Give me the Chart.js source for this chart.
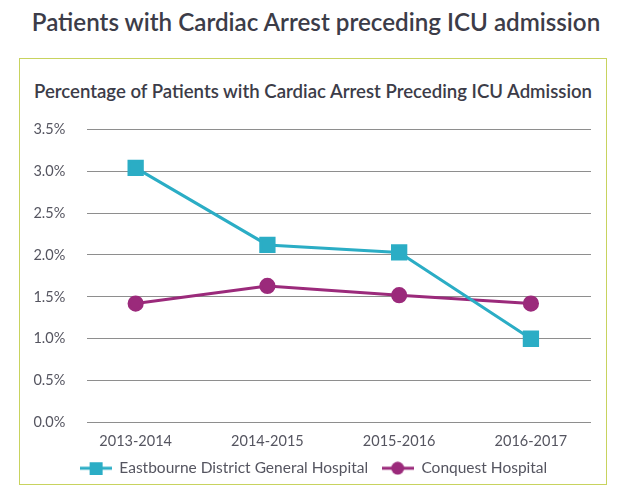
<!DOCTYPE html>
<html>
<head>
<meta charset="utf-8">
<script src="https://cdn.jsdelivr.net/npm/chart.js@4.4.1/dist/chart.umd.min.js"></script>
<style>
  html, body { margin: 0; padding: 0; background: #ffffff; }
  body { width: 622px; height: 498px; position: relative; overflow: hidden; font-family: Lato, "Open Sans", sans-serif; }
  #pageTitle { position: absolute; left: 0; width: 632px; top: 7px; text-align: center; font-size: 24.2px; font-weight: 600; color: #3c3c48; white-space: nowrap; line-height: 30px; }
  #box { position: absolute; left: 19px; top: 58px; width: 588px; height: 427px; border: 1.5px solid #c8d35e; box-sizing: border-box; }
  #chartTitle { position: absolute; left: 34px; top: 80px; font-size: 18.6px; font-weight: 600; color: #3c3c48; white-space: nowrap; line-height: 22px; }
  #wrap { position: absolute; left: 0; top: 0; width: 622px; height: 498px; }
</style>
</head>
<body>
<div id="pageTitle">Patients with Cardiac Arrest preceding ICU admission</div>
<div id="box"></div>
<div id="chartTitle">Percentage of Patients with Cardiac Arrest Preceding ICU Admission</div>
<div id="wrap"><canvas id="c" width="622" height="498"></canvas></div>
<script>
const categories = ["2013-2014", "2014-2015", "2015-2016", "2016-2017"];
const seriesNames = ["Eastbourne District General Hospital", "Conquest Hospital"];
const eastbourne = [3.04, 2.12, 2.03, 1.00];
const conquest = [1.42, 1.63, 1.52, 1.42];
const yTicks = [0, 0.5, 1.0, 1.5, 2.0, 2.5, 3.0, 3.5];

const TEAL = "#2badc5";
const PURPLE = "#9b2a7b";
const FONT = "Lato, 'Open Sans', sans-serif";

function legendIcon(color, shape) {
  const cv = document.createElement("canvas");
  cv.width = 32; cv.height = 14;
  const g = cv.getContext("2d");
  g.strokeStyle = color; g.lineWidth = 3;
  g.beginPath(); g.moveTo(0, 7); g.lineTo(32, 7); g.stroke();
  g.fillStyle = color;
  if (shape === "rect") { g.fillRect(10, 1, 13, 13); }
  else { g.beginPath(); g.arc(16, 7, 6.5, 0, Math.PI * 2); g.fill(); }
  return cv;
}

// shift the legend horizontally so it is centred like the reference
const legendShift = {
  id: "legendShift",
  afterLayout(chart) {
    const lg = chart.legend;
    if (lg) { lg.left += 4.4; lg.right += 4.4; }
  }
};

const toPoints = arr => arr.map((v, i) => ({ x: i, y: v }));

new Chart(document.getElementById("c"), {
  type: "line",
  data: {
    datasets: [
      { label: seriesNames[0], data: toPoints(eastbourne), borderColor: TEAL, backgroundColor: TEAL,
        borderWidth: 3, pointStyle: "rect", pointRadius: 9.4, pointHoverRadius: 9.4, tension: 0 },
      { label: seriesNames[1], data: toPoints(conquest), borderColor: PURPLE, backgroundColor: PURPLE,
        borderWidth: 3, pointStyle: "circle", pointRadius: 6.6, pointHoverRadius: 6.6, tension: 0 }
    ]
  },
  plugins: [legendShift],
  options: {
    responsive: false,
    animation: false,
    layout: { padding: { top: 129.3, left: 27, right: 31, bottom: 12 } },
    plugins: {
      title: { display: false },
      tooltip: { enabled: false },
      legend: {
        position: "bottom",
        labels: {
          usePointStyle: true,
          pointStyleWidth: 32,
          padding: 13.5,
          color: "#555560",
          font: { family: FONT, size: 15.5 },
          generateLabels: (chart) => chart.data.datasets.map((ds, i) => ({
            text: ds.label,
            pointStyle: legendIcon(ds.borderColor, ds.pointStyle),
            fillStyle: ds.borderColor, strokeStyle: ds.borderColor,
            fontColor: "#555560", lineWidth: 0, hidden: false, datasetIndex: i
          }))
        }
      }
    },
    scales: {
      x: {
        type: "linear",
        min: -0.367, max: 3.456,
        afterFit: (s) => { s.height = 24.5; },
        grid: { display: false, drawTicks: false },
        border: { display: false },
        ticks: {
          stepSize: 1, includeBounds: false, autoSkip: false, maxRotation: 0,
          padding: 10, color: "#555560", font: { family: FONT, size: 14.5 },
          callback: (v) => Number.isInteger(v) ? (categories[v] ?? "") : ""
        }
      },
      y: {
        min: 0, max: 3.5,
        afterFit: (s) => { s.width = 60.3; },
        afterBuildTicks: (s) => { s.ticks = yTicks.map(v => ({ value: v })); },
        grid: { color: "#8e8e8e", lineWidth: 1, drawTicks: false },
        border: { display: false },
        ticks: {
          padding: 22, color: "#555560", font: { family: FONT, size: 14.5 },
          callback: (v) => v.toFixed(1) + "%"
        }
      }
    }
  }
});
</script>
</body>
</html>
